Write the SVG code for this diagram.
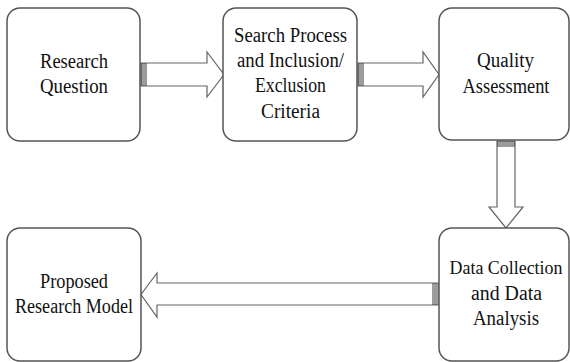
<svg xmlns="http://www.w3.org/2000/svg" width="570" height="362" viewBox="0 0 570 362">
<style>
.box{fill:#fff;stroke:#555;stroke-width:1.5}
.arr{fill:#fff;stroke:#666;stroke-width:1.2;stroke-linejoin:miter}
.hatch{stroke:#222;stroke-width:0.9}
text{font-family:'Liberation Serif','DejaVu Serif','Times New Roman',serif;font-size:20.5px;fill:#111;text-anchor:middle}
text.fit{font-size:19px}
</style>
<rect width="570" height="362" fill="#fff"/>
<g id="connectors">
  <path class="arr" d="M141,63 H207 V52 L224,74.5 L207,97 V86 H141 Z"/>
  <g class="hatch"><line x1="142" y1="63" x2="142" y2="86"/><line x1="144" y1="63" x2="144" y2="86"/><line x1="146" y1="63" x2="146" y2="86"/></g>
  <path class="arr" d="M358,63 H423 V52 L439,74.5 L423,97 V86 H358 Z"/>
  <g class="hatch"><line x1="359" y1="63" x2="359" y2="86"/><line x1="361" y1="63" x2="361" y2="86"/><line x1="363" y1="63" x2="363" y2="86"/></g>
  <path class="arr" d="M497,141 V207 H489 L506,228 L523,207 H515 V141 Z"/>
  <g class="hatch"><line x1="497" y1="142" x2="515" y2="142"/><line x1="497" y1="144" x2="515" y2="144"/><line x1="497" y1="146" x2="515" y2="146"/></g>
  <path class="arr" d="M439,283 H157 V273 L141,294.5 L157,317 V305 H439 Z"/>
  <g class="hatch"><line x1="433" y1="283" x2="433" y2="305"/><line x1="435" y1="283" x2="435" y2="305"/><line x1="437" y1="283" x2="437" y2="305"/></g>
</g>
<g id="node-research-question">
  <rect class="box" x="7" y="8" width="133" height="133" rx="13"/>
  <text x="74" y="68" textLength="68" lengthAdjust="spacingAndGlyphs">Research</text>
  <text x="74" y="93" textLength="68" lengthAdjust="spacingAndGlyphs">Question</text>
</g>
<g id="node-search-process">
  <rect class="box" x="223" y="8" width="134" height="133" rx="13"/>
  <text x="290.5" y="42" textLength="113" lengthAdjust="spacingAndGlyphs">Search Process</text>
  <text x="290.5" y="67" textLength="107" lengthAdjust="spacingAndGlyphs">and Inclusion/</text>
  <text x="290.5" y="92" textLength="71" lengthAdjust="spacingAndGlyphs">Exclusion</text>
  <text x="290.5" y="118" textLength="59" lengthAdjust="spacingAndGlyphs">Criteria</text>
</g>
<g id="node-quality-assessment">
  <rect class="box" x="439" y="8" width="130" height="132" rx="13"/>
  <text x="505.5" y="67" textLength="57" lengthAdjust="spacingAndGlyphs">Quality</text>
  <text x="506" y="93" textLength="87" lengthAdjust="spacingAndGlyphs">Assessment</text>
</g>
<g id="node-data-collection">
  <rect class="box" x="439" y="228" width="130" height="133" rx="13"/>
  <text class="fit" x="506" y="274" textLength="113" lengthAdjust="spacingAndGlyphs">Data Collection</text>
  <text x="506.5" y="300" textLength="71" lengthAdjust="spacingAndGlyphs">and Data</text>
  <text x="506" y="325" textLength="66" lengthAdjust="spacingAndGlyphs">Analysis</text>
</g>
<g id="node-proposed-model">
  <rect class="box" x="7" y="228" width="134" height="133" rx="13"/>
  <text x="74" y="288" textLength="68" lengthAdjust="spacingAndGlyphs">Proposed</text>
  <text x="74" y="313" textLength="118" lengthAdjust="spacingAndGlyphs">Research Model</text>
</g>
</svg>
